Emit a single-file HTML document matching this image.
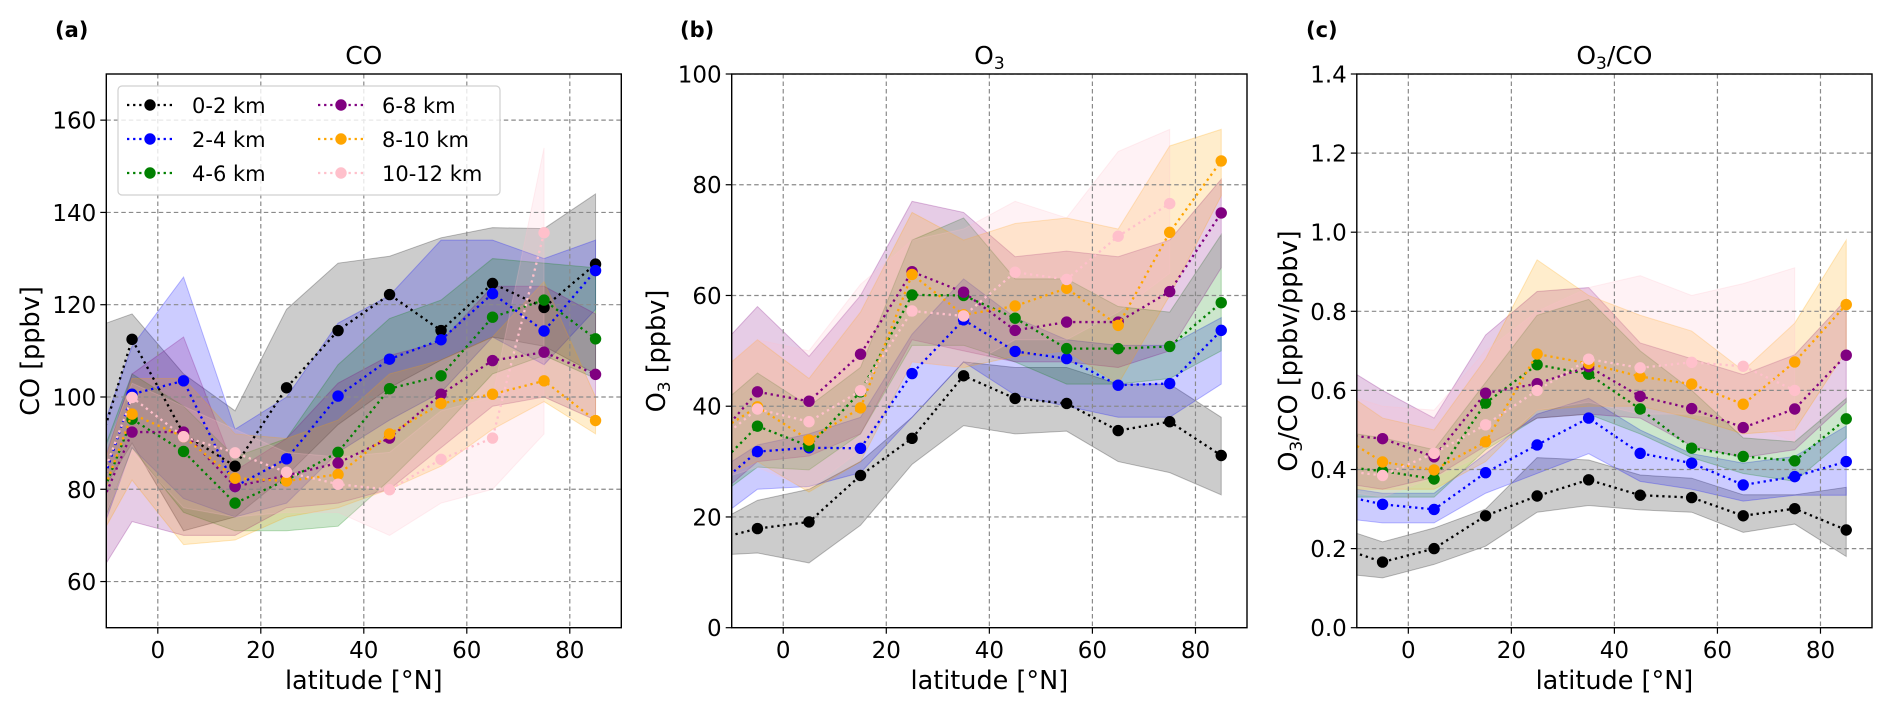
<!DOCTYPE html>
<html><head><meta charset="utf-8"><style>
html,body{margin:0;padding:0;background:#fff;}
svg{display:block;font-family:"DejaVu Sans","Liberation Sans",sans-serif;}
</style></head><body>
<svg id="fig" width="1892" height="711" viewBox="0 0 1892 711" xmlns="http://www.w3.org/2000/svg"></svg>
<script>
// latitude bin centres
const lat = [-15, -5, 5, 15, 25, 35, 45, 55, 65, 75, 85];
const seriesLabels = ["0-2 km", "2-4 km", "4-6 km", "6-8 km", "8-10 km", "10-12 km"];
// panel (a) CO [ppbv]
const co_0_2 = [76, 112.5, 92, 85, 102, 114.4, 122.2, 114.4, 124.6, 119.4, 128.8];
const co_2_4 = [67, 100.6, 103.5, 80.6, 86.6, 100.2, 108.2, 112.4, 122.4, 114.3, 127.4];
const co_4_6 = [67, 95.2, 88.2, 77, 82, 88, 101.8, 104.6, 117.3, 121, 112.6];
const co_6_8 = [66, 92.4, 92.4, 80.6, 83, 85.7, 91.1, 100.6, 107.9, 109.7, 104.9];
const co_8_10 = [66, 96.3, 91.4, 82.4, 81.8, 83.2, 92, 98.6, 100.6, 103.5, 94.9];
const co_10_12 = [70, 99.9, 91.4, 87.9, 83.7, 81.1, 79.9, 86.5, 91.1, 135.6, null];
const co_0_2_lo = [72, 90, 71, 74, 83, 94, 102, 108, 113, 111, 105];
const co_0_2_hi = [114, 118, 105, 97, 119, 129, 130.5, 134.5, 136.7, 136.5, 144];
const co_2_4_lo = [58, 89, 78, 74, 77, 88, 95, 101, 113, 107, 119];
const co_2_4_hi = [80, 111, 126, 93, 100, 116, 122, 134, 134, 130, 134];
const co_4_6_lo = [60, 89, 75, 71, 71, 72, 82, 93, 105, 109, 104];
const co_4_6_hi = [75, 105, 98, 87, 91, 107, 117, 121, 130, 129, 128];
const co_6_8_lo = [55, 73, 70, 70, 76, 77, 80, 89, 98, 100, 95];
const co_6_8_hi = [70, 105, 113, 84, 91, 103, 109, 112, 124, 124, 118];
const co_8_10_lo = [62, 82, 68, 69, 74, 76, 80, 85, 93, 99, 92];
const co_8_10_hi = [70, 104, 104, 92, 91, 95, 105, 108, 113, 125, 100];
const co_10_12_lo = [62, 88, 76, 74, 75, 75, 70, 77, 80, 92, null];
const co_10_12_hi = [75, 103, 98, 93, 88, 87, 88, 97, 100, 154, null];
// panel (b) O3 [ppbv]
const o3_0_2 = [15.5, 17.9, 19.1, 27.5, 34.2, 45.5, 41.4, 40.5, 35.6, 37.2, 31.1];
const o3_2_4 = [24, 31.8, 32.5, 32.4, 45.9, 55.6, 49.9, 48.6, 43.8, 44.1, 53.7];
const o3_4_6 = [27, 36.4, 32.8, 42.6, 60.1, 60.0, 55.9, 50.4, 50.4, 50.8, 58.7];
const o3_6_8 = [32, 42.6, 40.9, 49.4, 64.3, 60.6, 53.7, 55.2, 55.2, 60.7, 74.9];
const o3_8_10 = [34, 39.9, 33.9, 39.7, 63.8, 56.5, 58.1, 61.3, 54.6, 71.4, 84.3];
const o3_10_12 = [32, 39.5, 37.2, 42.8, 57.2, 56.3, 64.2, 62.9, 70.7, 76.6, null];
const o3_0_2_lo = [13, 13.5, 11.7, 18.5, 29.5, 36.5, 35, 35.5, 30, 28, 24];
const o3_0_2_hi = [18, 23, 25, 30, 38, 48, 47, 47, 44, 44, 38];
const o3_2_4_lo = [18, 25, 25.5, 28, 38, 48, 42, 40, 38, 38, 44];
const o3_2_4_hi = [27, 33, 35, 38, 53, 63, 56, 52, 51, 51, 56];
const o3_4_6_lo = [22, 29, 28.5, 35, 51, 51, 48, 44, 44, 45, 50];
const o3_4_6_hi = [38, 46, 40, 47, 70, 74, 63, 63, 58, 57, 71];
const o3_6_8_lo = [22, 30, 31, 35, 52, 50, 48, 48, 47, 50, 65];
const o3_6_8_hi = [48, 58, 49, 60, 77, 75, 67, 68, 67, 70, 81];
const o3_8_10_lo = [26, 30, 24.5, 30, 48, 47, 49, 50, 44, 60, 78];
const o3_8_10_hi = [44, 52, 45, 57, 75, 70, 73, 74, 72, 87, 90];
const o3_10_12_lo = [26, 29, 25, 32, 48, 47, 52, 52, 57, 64, null];
const o3_10_12_hi = [44, 52, 50, 62, 70, 72, 77, 74, 86, 90, null];
// panel (c) O3/CO [ppbv/ppbv]
const r_0_2 = [0.21, 0.166, 0.2, 0.283, 0.333, 0.374, 0.335, 0.329, 0.283, 0.301, 0.247];
const r_2_4 = [0.34, 0.312, 0.299, 0.392, 0.462, 0.53, 0.441, 0.416, 0.361, 0.382, 0.42];
const r_4_6 = [0.41, 0.396, 0.376, 0.568, 0.665, 0.641, 0.553, 0.454, 0.433, 0.422, 0.528];
const r_6_8 = [0.49, 0.478, 0.432, 0.593, 0.617, 0.66, 0.585, 0.554, 0.506, 0.553, 0.689];
const r_8_10 = [0.5, 0.419, 0.399, 0.47, 0.692, 0.668, 0.635, 0.616, 0.565, 0.672, 0.817];
const r_10_12 = [0.4, 0.385, 0.441, 0.513, 0.6, 0.679, 0.657, 0.671, 0.661, 0.6, null];
const r_0_2_lo = [0.14, 0.126, 0.16, 0.206, 0.292, 0.309, 0.298, 0.292, 0.241, 0.262, 0.18];
const r_0_2_hi = [0.26, 0.217, 0.252, 0.3, 0.43, 0.424, 0.386, 0.378, 0.336, 0.336, 0.355];
const r_2_4_lo = [0.28, 0.265, 0.265, 0.34, 0.39, 0.44, 0.37, 0.35, 0.32, 0.335, 0.335];
const r_2_4_hi = [0.36, 0.34, 0.34, 0.44, 0.54, 0.58, 0.5, 0.44, 0.416, 0.433, 0.51];
const r_4_6_lo = [0.33, 0.33, 0.33, 0.45, 0.53, 0.54, 0.49, 0.43, 0.39, 0.37, 0.48];
const r_4_6_hi = [0.5, 0.48, 0.45, 0.62, 0.79, 0.83, 0.7, 0.6, 0.48, 0.47, 0.58];
const r_6_8_lo = [0.37, 0.35, 0.38, 0.46, 0.53, 0.54, 0.53, 0.46, 0.43, 0.45, 0.57];
const r_6_8_hi = [0.68, 0.6, 0.53, 0.74, 0.85, 0.86, 0.72, 0.68, 0.64, 0.69, 0.83];
const r_8_10_lo = [0.35, 0.35, 0.35, 0.42, 0.55, 0.56, 0.56, 0.53, 0.49, 0.5, 0.7];
const r_8_10_hi = [0.62, 0.53, 0.5, 0.68, 0.93, 0.84, 0.79, 0.75, 0.65, 0.77, 0.98];
const r_10_12_lo = [0.35, 0.33, 0.38, 0.44, 0.55, 0.57, 0.54, 0.54, 0.52, 0.47, null];
const r_10_12_hi = [0.6, 0.56, 0.55, 0.7, 0.8, 0.86, 0.89, 0.84, 0.87, 0.91, null];
const xTicks = [0, 20, 40, 60, 80];
const yTicksA = [60, 80, 100, 120, 140, 160];
const yTicksB = [0, 20, 40, 60, 80, 100];
const yTicksC = [0.0, 0.2, 0.4, 0.6, 0.8, 1.0, 1.2, 1.4];

const NS = "http://www.w3.org/2000/svg";
const svg = document.getElementById("fig");
const colors = ["#000000", "#0000ff", "#008000", "#800080", "#ffa500", "#ffc0cb"];
function mk(tag, attrs, parent) {
  const e = document.createElementNS(NS, tag);
  for (const k in attrs) e.setAttribute(k, attrs[k]);
  (parent || svg).appendChild(e);
  return e;
}
const TOP = 74, BOT = 627.7;
const panels = [
  {key: "a", left: 106.3, right: 621.3, ymin: 50, ymax: 170, yt: yTicksA, dec: 0,
   mean: [co_0_2, co_2_4, co_4_6, co_6_8, co_8_10, co_10_12],
   lo: [co_0_2_lo, co_2_4_lo, co_4_6_lo, co_6_8_lo, co_8_10_lo, co_10_12_lo],
   hi: [co_0_2_hi, co_2_4_hi, co_4_6_hi, co_6_8_hi, co_8_10_hi, co_10_12_hi]},
  {key: "b", left: 731.7, right: 1247, ymin: 0, ymax: 100, yt: yTicksB, dec: 0,
   mean: [o3_0_2, o3_2_4, o3_4_6, o3_6_8, o3_8_10, o3_10_12],
   lo: [o3_0_2_lo, o3_2_4_lo, o3_4_6_lo, o3_6_8_lo, o3_8_10_lo, o3_10_12_lo],
   hi: [o3_0_2_hi, o3_2_4_hi, o3_4_6_hi, o3_6_8_hi, o3_8_10_hi, o3_10_12_hi]},
  {key: "c", left: 1356.8, right: 1872, ymin: 0, ymax: 1.4, yt: yTicksC, dec: 1,
   mean: [r_0_2, r_2_4, r_4_6, r_6_8, r_8_10, r_10_12],
   lo: [r_0_2_lo, r_2_4_lo, r_4_6_lo, r_6_8_lo, r_8_10_lo, r_10_12_lo],
   hi: [r_0_2_hi, r_2_4_hi, r_4_6_hi, r_6_8_hi, r_8_10_hi, r_10_12_hi]}
];
const defs = mk("defs", {});
panels.forEach(p => {
  const xs = v => p.left + (v + 10) / 100 * (p.right - p.left);
  const ys = v => BOT - (v - p.ymin) / (p.ymax - p.ymin) * (BOT - TOP);
  const cp = mk("clipPath", {id: "clip-" + p.key}, defs);
  mk("rect", {x: p.left, y: TOP, width: p.right - p.left, height: BOT - TOP}, cp);
  const g = mk("g", {});
  
  
  const plot = mk("g", {"clip-path": "url(#clip-" + p.key + ")"}, g);
  p.mean.forEach((m, si) => {
    const idx = lat.map((_, i) => i).filter(i => p.lo[si][i] !== null);
    const up = idx.map(i => xs(lat[i]) + "," + ys(p.hi[si][i]));
    const dn = idx.slice().reverse().map(i => xs(lat[i]) + "," + ys(p.lo[si][i]));
    const band = mk("polygon", {points: up.concat(dn).join(" "), fill: colors[si], "fill-opacity": 0.2,
      stroke: colors[si], "stroke-opacity": 0.25, "stroke-width": 1}, plot);
    
    
  });
  xTicks.forEach(t => mk("line", {x1: xs(t), x2: xs(t), y1: TOP, y2: BOT, stroke: "#8a8a8a", "stroke-width": 1.2, "stroke-dasharray": "4.5,3"}, plot));
  p.yt.forEach(t => mk("line", {x1: p.left, x2: p.right, y1: ys(t), y2: ys(t), stroke: "#8a8a8a", "stroke-width": 1.2, "stroke-dasharray": "4.5,3"}, plot));
  p.mean.forEach((m, si) => {
    const idx = lat.map((_, i) => i).filter(i => m[i] !== null);
    const line = mk("polyline", {points: idx.map(i => xs(lat[i]) + "," + ys(m[i])).join(" "), fill: "none",
      stroke: colors[si], "stroke-width": 2.3, "stroke-dasharray": "2.3,3.8"}, plot);
    
    
    idx.forEach(i => {
      const c = mk("circle", {cx: xs(lat[i]), cy: ys(m[i]), r: 5.7, fill: colors[si]}, plot);
      
      
    });
  });
  mk("rect", {x: p.left, y: TOP, width: p.right - p.left, height: BOT - TOP, fill: "none", stroke: "#000", "stroke-width": 1.4}, g);
  xTicks.forEach(t => {
    mk("line", {x1: xs(t), x2: xs(t), y1: BOT, y2: BOT + 6, stroke: "#000", "stroke-width": 1.2}, g);
    const tx = mk("text", {x: xs(t), y: 658, "text-anchor": "middle", "font-size": 23, fill: "#000"}, g);
    tx.textContent = t;
    
    
  });
  p.yt.forEach(t => {
    mk("line", {x1: p.left - 6, x2: p.left, y1: ys(t), y2: ys(t), stroke: "#000", "stroke-width": 1.2}, g);
    const ty = mk("text", {x: p.left - 10, y: ys(t) + 8.5, "text-anchor": "end", "font-size": 23, fill: "#000"}, g);
    ty.textContent = t.toFixed(p.dec);
    
    
  });
  const cx = (p.left + p.right) / 2;
  const xl = mk("text", {x: cx, y: 689, "text-anchor": "middle", "font-size": 25.5}, g);
  xl.textContent = "latitude [°N]";
  
  
});
</script>
<svg style="position:absolute;left:0;top:0" width="1892" height="711" font-family="DejaVu Sans, Liberation Sans, sans-serif">
  <text x="55" y="37" font-size="21" font-weight="bold">(a)</text>
  <text x="680" y="37" font-size="21" font-weight="bold">(b)</text>
  <text x="1306" y="37" font-size="21" font-weight="bold">(c)</text>
  <text x="363.8" y="64" font-size="25" text-anchor="middle">CO</text>
  <text x="989.4" y="64" font-size="25" text-anchor="middle">O<tspan font-size="17" dy="5">3</tspan></text>
  <text x="1614.4" y="64" font-size="25" text-anchor="middle">O<tspan font-size="17" dy="5">3</tspan><tspan dy="-5">/CO</tspan></text>
  <text transform="translate(39,351) rotate(-90)" font-size="25.5" text-anchor="middle">CO [ppbv]</text>
  <text transform="translate(665,351) rotate(-90)" font-size="25.5" text-anchor="middle">O<tspan font-size="17" dy="5">3</tspan><tspan dy="-5"> [ppbv]</tspan></text>
  <text transform="translate(1297,351) rotate(-90)" font-size="25.5" text-anchor="middle">O<tspan font-size="17" dy="5">3</tspan><tspan dy="-5">/CO [ppbv/ppbv]</tspan></text>
  <g>
    <rect x="118" y="86" width="382" height="109" rx="4" fill="#fff" fill-opacity="0.8" stroke="#d0d0d0" stroke-width="1.2"/>
    <g><line x1="127" x2="173" y1="105" y2="105" stroke="#000" stroke-width="2.3" stroke-dasharray="2.3,3.8"/><circle cx="150" cy="105" r="5.7" fill="#000"/><text x="192" y="113" font-size="21">0-2 km</text></g>
    <g><line x1="127" x2="173" y1="139" y2="139" stroke="#0000ff" stroke-width="2.3" stroke-dasharray="2.3,3.8"/><circle cx="150" cy="139" r="5.7" fill="#0000ff"/><text x="192" y="147" font-size="21">2-4 km</text></g>
    <g><line x1="127" x2="173" y1="173" y2="173" stroke="#008000" stroke-width="2.3" stroke-dasharray="2.3,3.8"/><circle cx="150" cy="173" r="5.7" fill="#008000"/><text x="192" y="181" font-size="21">4-6 km</text></g>
    <g><line x1="318" x2="364" y1="105" y2="105" stroke="#800080" stroke-width="2.3" stroke-dasharray="2.3,3.8"/><circle cx="341" cy="105" r="5.7" fill="#800080"/><text x="382" y="113" font-size="21">6-8 km</text></g>
    <g><line x1="318" x2="364" y1="139" y2="139" stroke="#ffa500" stroke-width="2.3" stroke-dasharray="2.3,3.8"/><circle cx="341" cy="139" r="5.7" fill="#ffa500"/><text x="382" y="147" font-size="21">8-10 km</text></g>
    <g><line x1="318" x2="364" y1="173" y2="173" stroke="#ffc0cb" stroke-width="2.3" stroke-dasharray="2.3,3.8"/><circle cx="341" cy="173" r="5.7" fill="#ffc0cb"/><text x="382" y="181" font-size="21">10-12 km</text></g>
  </g>
</svg>
</body></html>
